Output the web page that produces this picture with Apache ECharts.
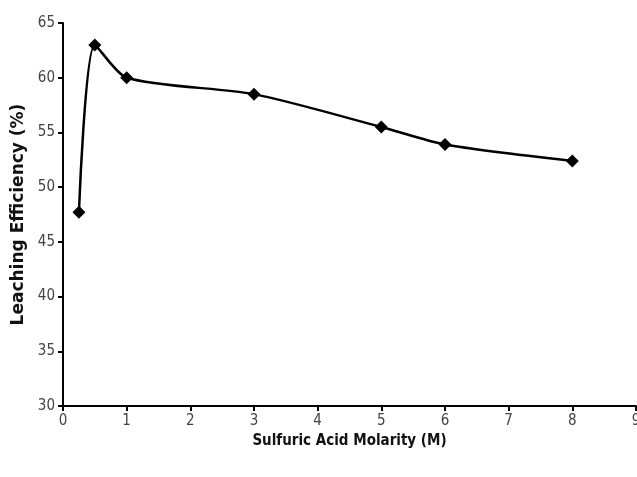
<!DOCTYPE html>
<html><head><meta charset="utf-8">
<script src="https://cdn.jsdelivr.net/npm/echarts@6/dist/echarts.min.js"></script>
<style>html,body{margin:0;padding:0;background:#fff}#c{width:637px;height:477px}</style>
</head><body><div id="c"></div>
<script>
var molarity = [0.25, 0.5, 1, 3, 5, 6, 8];
var efficiency = [47.7, 63.0, 60.0, 58.5, 55.5, 53.9, 52.4];
var xTicks = [0, 1, 2, 3, 4, 5, 6, 7, 8, 9];
var yTicks = [30, 35, 40, 45, 50, 55, 60, 65];

var chart = echarts.init(document.getElementById('c'));
var labelFont = '"DejaVu Sans Condensed", "Liberation Sans Narrow", "Arial Narrow", sans-serif';
chart.setOption({
  animation: false,
  backgroundColor: '#fff',
  grid: {left: 63, right: 1, top: 23, bottom: 71, containLabel: false, outerBoundsMode: 'none'},
  xAxis: {
    type: 'value', min: xTicks[0], max: xTicks[xTicks.length - 1], interval: 1,
    name: 'Sulfuric Acid Molarity (M)', nameLocation: 'middle', nameGap: 25,
    nameTextStyle: {fontFamily: labelFont, fontWeight: 'bold', fontSize: 15, color: '#111'},
    axisLine: {show: true, lineStyle: {color: '#000', width: 2}},
    axisTick: {show: true, length: 5, lineStyle: {color: '#000', width: 2}},
    axisLabel: {fontFamily: labelFont, fontSize: 15, color: '#444', margin: 8},
    splitLine: {show: false}
  },
  yAxis: {
    type: 'value', min: yTicks[0], max: yTicks[yTicks.length - 1], interval: 5,
    name: 'Leaching Efficiency (%)', nameLocation: 'middle', nameGap: 34,
    nameTextStyle: {fontFamily: '"DejaVu Sans", sans-serif', fontWeight: 'bold', fontSize: 17, color: '#111'},
    axisLine: {show: true, lineStyle: {color: '#000', width: 2}},
    axisTick: {show: true, length: 5, lineStyle: {color: '#000', width: 2}},
    axisLabel: {fontFamily: labelFont, fontSize: 15, color: '#444', margin: 8},
    splitLine: {show: false}
  },
  series: [{
    type: 'line',
    data: molarity.map(function (x, i) { return [x, efficiency[i]]; }),
    smooth: 0.25,
    symbol: 'diamond',
    symbolSize: 13,
    itemStyle: {color: '#000'},
    lineStyle: {color: '#000', width: 2.5}
  }]
});
</script></body></html>
